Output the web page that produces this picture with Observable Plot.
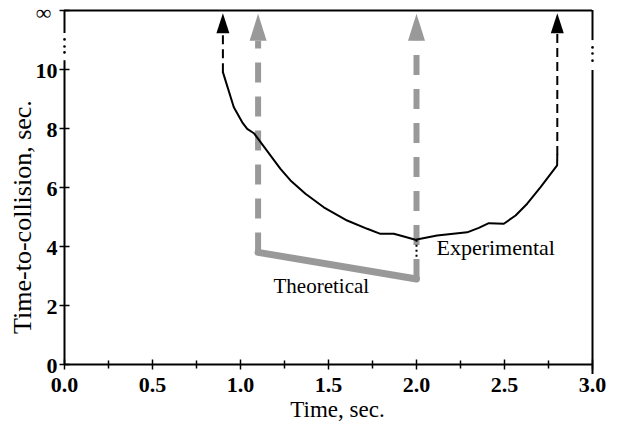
<!DOCTYPE html>
<html>
<head>
<meta charset="utf-8">
<script src="https://cdn.jsdelivr.net/npm/d3@7"></script>
<script src="https://cdn.jsdelivr.net/npm/@observablehq/plot@0.6"></script>
<style>
  body { margin: 0; background: #fff; }
</style>
</head>
<body>
<div id="chart"></div>
<script>
// Experimental time-to-collision (sec) against time (sec)
const expTime = [0.90, 0.962, 1.01, 1.038, 1.076, 1.114, 1.227, 1.284, 1.369, 1.473, 1.606, 1.72, 1.795, 1.871, 1.928, 1.994, 2.117, 2.288, 2.354, 2.411, 2.496, 2.563, 2.629, 2.705, 2.799, 2.80];
const expTTC  = [9.91, 8.72, 8.21, 7.99, 7.84, 7.54, 6.63, 6.24, 5.79, 5.33, 4.88, 4.60, 4.43, 4.43, 4.34, 4.23, 4.37, 4.48, 4.63, 4.79, 4.77, 5.05, 5.45, 6.01, 6.75, 7.1];

// Theoretical time-to-collision between the two events
const theoTime = [1.1, 2.0];
const theoTTC  = [3.8, 2.9];

// Axis ticks
const xTicks = [0, 0.5, 1, 1.5, 2, 2.5, 3];
const xMinorTicks = [0.25, 0.75, 1.25, 1.75, 2.25, 2.75];
const yTicks = [0, 2, 4, 6, 8, 10];

// Level standing for "infinity" at the top of the y axis
const INF = 12;
// Where the two vertical axes are broken (y values), with the dots drawn in the gaps
const leftBreak = {lower: 10.3, upper: 11.22, dots: [10.58, 10.78, 11.02]};
const rightBreak = {lower: 9.97, upper: 10.98, dots: [10.3, 10.54, 10.75]};
const rightAxisBottom = -0.34;

// ---- layout ----
const W = 622, H = 432;
const M = {top: 10, right: 30, bottom: 68, left: 64};
const pxPerUnit = (H - M.top - M.bottom) / INF;

const FONT = "'Liberation Serif', 'Times New Roman', Times, serif";
const GRAY = "#999999";

// filled, elongated arrowheads with their tip at the symbol origin
function arrowHead(w, h) {
  return {draw(ctx) { ctx.moveTo(0, 0); ctx.lineTo(w / 2, h); ctx.lineTo(-w / 2, h); ctx.closePath(); }};
}
const blackHead = {w: 13, h: 20};
const grayHead = {w: 17, h: 27};
const blackTip = 11.91, grayTip = 11.89;
const blackBase = blackTip - blackHead.h / pxPerUnit;
const grayBase = grayTip - grayHead.h / pxPerUnit;

// short tick marks that cross an axis
function hTick(half) { return {draw(ctx) { ctx.moveTo(-half, 0); ctx.lineTo(half, 0); }}; }
function vTick(half) { return {draw(ctx) { ctx.moveTo(0, -half); ctx.lineTo(0, half); }}; }

const experimental = expTime.map((t, i) => ({t, v: expTTC[i]}));
const theoretical = theoTime.map((t, i) => ({t, v: theoTTC[i]}));
const first = experimental[0];
const last = experimental[experimental.length - 1];
const minPt = experimental.reduce((a, b) => (b.v < a.v ? b : a));

const grayShafts = theoretical.map(d => ({t: d.t, y1: d.v, y2: grayBase}));
const blackShafts = [{t: first.t, y1: first.v, y2: blackBase}, {t: last.t, y1: last.v, y2: blackBase}];

const chart = Plot.plot({
  width: W,
  height: H,
  marginTop: M.top,
  marginRight: M.right,
  marginBottom: M.bottom,
  marginLeft: M.left,
  x: {domain: [0, 3], axis: null},
  y: {domain: [0, INF], axis: null},
  style: {fontFamily: FONT, background: "#fff", color: "#000", overflow: "visible"},
  marks: [
    // frame: x axis, broken left and right axes, infinity line
    Plot.ruleY([0], {x1: 0, x2: 3, stroke: "#000", strokeWidth: 2}),
    Plot.ruleY([INF], {x1: 0, x2: 3, stroke: "#000", strokeWidth: 2}),
    Plot.ruleX([0], {y1: 0, y2: leftBreak.lower, stroke: "#000", strokeWidth: 2}),
    Plot.ruleX([0], {y1: leftBreak.upper, y2: INF, stroke: "#000", strokeWidth: 2}),
    Plot.ruleX([3], {y1: rightAxisBottom, y2: rightBreak.lower, stroke: "#000", strokeWidth: 2}),
    Plot.ruleX([3], {y1: rightBreak.upper, y2: INF, stroke: "#000", strokeWidth: 2}),
    Plot.dot(leftBreak.dots, {x: 0, y: d => d, r: 1.3, fill: "#000", stroke: null}),
    Plot.dot(rightBreak.dots, {x: 3, y: d => d, r: 1.3, fill: "#000", stroke: null}),

    // tick marks
    Plot.dot(yTicks.concat([INF]), {x: 0, y: d => d, symbol: hTick(5), stroke: "#000", strokeWidth: 1.5, fill: null}),
    Plot.dot(xTicks, {x: d => d, y: 0, symbol: vTick(5), stroke: "#000", strokeWidth: 1.5, fill: null}),
    Plot.dot(xMinorTicks, {x: d => d, y: 0, symbol: vTick(4), stroke: "#000", strokeWidth: 1.5, fill: null}),

    // tick labels
    Plot.text(yTicks, {x: 0, y: d => d, text: d => String(d), textAnchor: "end", dx: -7, dy: 1,
      lineAnchor: "middle", fontWeight: "bold", fontSize: 22, fill: "#000"}),
    Plot.text(["∞"], {x: 0, y: INF, text: d => d, textAnchor: "end", dx: -13, dy: 2,
      lineAnchor: "middle", fontSize: 22, fill: "#000"}),
    Plot.text(xTicks, {x: d => d, y: 0, text: d => d3.format(".1f")(d), dy: 20, lineAnchor: "middle",
      fontWeight: "bold", fontSize: 22, fill: "#000"}),

    // axis titles
    Plot.text(["Time, sec."], {x: 1.5, frameAnchor: "bottom", text: d => d, dx: 9, dy: 45,
      textAnchor: "middle", lineAnchor: "middle", fontSize: 23, fill: "#000"}),
    Plot.text(["Time-to-collision, sec."], {y: 5, frameAnchor: "left", text: d => d, dx: -42,
      rotate: -90, textAnchor: "middle", lineAnchor: "middle", fontSize: 26, fill: "#000"}),

    // theoretical: thick gray segment and dashed arrows rising to infinity
    Plot.link(grayShafts, {x1: "t", x2: "t", y1: "y1", y2: "y2", stroke: GRAY, strokeWidth: 6,
      strokeDasharray: "20,14"}),
    Plot.dot(theoretical, {x: "t", y: grayTip, symbol: arrowHead(grayHead.w, grayHead.h), fill: GRAY, stroke: null}),
    Plot.line(theoretical, {x: "t", y: "v", stroke: GRAY, strokeWidth: 7, strokeLinecap: "round"}),

    // experimental: black curve, dashed arrows to infinity at both ends
    Plot.link(blackShafts, {x1: "t", x2: "t", y1: "y1", y2: "y2", stroke: "#000", strokeWidth: 2,
      strokeDasharray: "9,5"}),
    Plot.dot([first, last], {x: "t", y: blackTip, symbol: arrowHead(blackHead.w, blackHead.h), fill: "#000", stroke: null}),
    Plot.line(experimental, {x: "t", y: "v", stroke: "#000", strokeWidth: 2, curve: "linear"}),
    // dotted link from the curve minimum down toward the theoretical line
    Plot.link([minPt], {x1: theoTime[1], x2: theoTime[1], y1: d => d.v, y2: 3.6, stroke: "#000",
      strokeWidth: 2, strokeDasharray: "2,3"}),

    // annotations
    Plot.text([minPt], {x: "t", y: "v", text: () => "Experimental", textAnchor: "start", lineAnchor: "bottom",
      dx: 21, dy: 15, fontSize: 22, fill: "#000"}),
    Plot.text([theoretical], {x: d => (d[0].t + d[1].t) / 2, y: d => (d[0].v + d[1].v) / 2, text: () => "Theoretical",
      textAnchor: "middle", lineAnchor: "bottom", dx: -16, dy: 27, fontSize: 21, fill: "#000"})
  ]
});

document.getElementById("chart").appendChild(chart);
</script>
</body>
</html>
